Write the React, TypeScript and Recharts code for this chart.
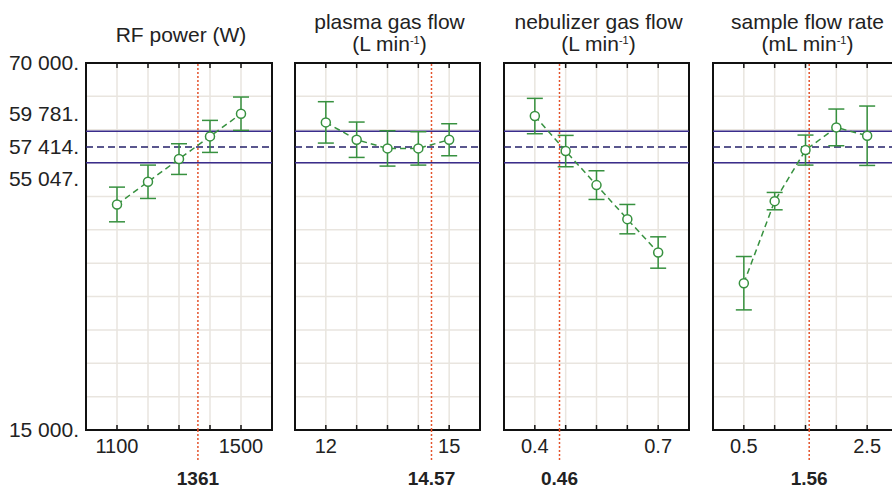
import React from "react";
import {
  ComposedChart,
  Line,
  XAxis,
  YAxis,
  CartesianGrid,
  ErrorBar,
  ReferenceLine,
  ReferenceArea,
} from "recharts";

// y scale shared by all four panels
const yTicks = [15000, 20000, 25000, 30000, 35000, 40000, 45000, 50000, 55000, 60000, 65000, 70000];
const yLabelValues = [70000, 59781, 57414, 55047, 15000];
const upperLimit = 59781;
const targetValue = 57414;
const lowerLimit = 55047;

// RF power (W)
const rfPower = [1100, 1200, 1300, 1400, 1500];
const rfSignal = [48800, 52200, 55600, 59000, 62400];
const rfError = [2600, 2500, 2300, 2400, 2500];

// plasma gas flow (L/min)
const plasmaFlow = [12, 12.75, 13.5, 14.25, 15];
const plasmaSignal = [61100, 58500, 57200, 57200, 58500];
const plasmaError = [3100, 2650, 2650, 2500, 2400];

// nebulizer gas flow (L/min)
const nebulizerFlow = [0.4, 0.475, 0.55, 0.625, 0.7];
const nebulizerSignal = [62050, 56800, 51700, 46600, 41600];
const nebulizerError = [2650, 2350, 2150, 2200, 2350];

// sample flow rate (mL/min)
const sampleFlow = [0.5, 1.0, 1.5, 2.0, 2.5];
const sampleSignal = [37000, 49300, 56950, 60350, 59100];
const sampleError = [4000, 1300, 2250, 2750, 4450];

const optimum = ["1361", "14.57", "0.46", "1.56"];

const GREEN = "#37913f";
const NAVY = "#3a2d8c";
const RED = "#e4532c";
const GRID = "#e9e5df";
const INK = "#222";
const FONT = "'Liberation Sans', Arial, Helvetica, sans-serif";

const PLOT_TOP = 63;
const PLOT_BOTTOM = 430;

type Panel = {
  title: string;
  unit?: string;
  xs: number[];
  ys: number[];
  errs: number[];
  domain: [number, number];
  labelled: number[];
  opt: string;
  left: number;
  width: number;
};

const panels: Panel[] = [
  { title: "RF power (W)", xs: rfPower, ys: rfSignal, errs: rfError, domain: [1000, 1600], labelled: [1100, 1500], opt: optimum[0], left: 86, width: 186 },
  { title: "plasma gas flow", unit: "L", xs: plasmaFlow, ys: plasmaSignal, errs: plasmaError, domain: [11.25, 15.75], labelled: [12, 15], opt: optimum[1], left: 295, width: 185 },
  { title: "nebulizer gas flow", unit: "L", xs: nebulizerFlow, ys: nebulizerSignal, errs: nebulizerError, domain: [0.325, 0.775], labelled: [0.4, 0.7], opt: optimum[2], left: 504, width: 185 },
  { title: "sample flow rate", unit: "mL", xs: sampleFlow, ys: sampleSignal, errs: sampleError, domain: [0, 3], labelled: [0.5, 2.5], opt: optimum[3], left: 713, width: 185 },
];

const fmtY = (v: number) => v.toLocaleString("en-US").replace(/,/g, " ") + ".";

function PanelChart({ p, first }: { p: Panel; first: boolean }) {
  const padL = first ? 0 : 10;
  const padR = first ? 8 : 10;
  const data = p.xs.map((x, i) => ({ x, y: p.ys[i], err: p.errs[i] }));
  const plotLeft = first ? p.left : padL;
  const plotRight = plotLeft + p.width;

  const xTick = (props: any) => {
    const { x, payload } = props;
    const v = payload.value;
    return (
      <g>
        <line x1={x} x2={x} y1={PLOT_BOTTOM} y2={PLOT_BOTTOM - 5} stroke="#111" strokeWidth={1.5} />
        <line x1={x} x2={x} y1={PLOT_TOP} y2={PLOT_TOP + 5} stroke="#111" strokeWidth={1.5} />
        {p.labelled.includes(v) && (
          <text x={x} y={453} textAnchor="middle" fontSize={20} fill={INK}>
            {String(v)}
          </text>
        )}
      </g>
    );
  };

  const yTick = (props: any) => {
    const { y } = props;
    return (
      <g>
        <line x1={plotLeft} x2={plotLeft + 5} y1={y} y2={y} stroke="#111" strokeWidth={1.5} />
        <line x1={plotRight} x2={plotRight - 5} y1={y} y2={y} stroke="#111" strokeWidth={1.5} />
      </g>
    );
  };

  const yLabel = (props: any) => {
    const { y, payload } = props;
    const v = payload.value;
    const shift = v === upperLimit ? -17 : v === lowerLimit ? 16 : 0;
    return (
      <text x={79} y={y + shift} dy={7} textAnchor="end" fontSize={21} fill={INK}>
        {fmtY(v)}
      </text>
    );
  };

  const optLabel = (props: any) => {
    const vb = props.viewBox || {};
    const x = vb.x ?? 0;
    const bottom = (vb.y ?? PLOT_TOP) + (vb.height ?? PLOT_BOTTOM - PLOT_TOP);
    return (
      <g>
        <line x1={x} x2={x} y1={bottom} y2={bottom + 31} stroke={RED} strokeWidth={1.5} strokeDasharray="2 2" />
        <text x={x} y={bottom + 55} textAnchor="middle" fontSize={19} fontWeight="bold" fill={INK}>
          {p.opt}
        </text>
      </g>
    );
  };

  const chartWidth = plotRight + padR;

  return (
    <div style={{ position: "absolute", top: 0, left: first ? 0 : p.left - padL }}>
      <ComposedChart
        width={chartWidth}
        height={488}
        data={data}
        margin={{ top: PLOT_TOP, bottom: 28, left: padL, right: padR }}
      >
        <CartesianGrid stroke={GRID} strokeWidth={1.5} />
        <XAxis
          dataKey="x"
          type="number"
          domain={p.domain}
          ticks={p.xs}
          allowDataOverflow
          axisLine={false}
          tickLine={false}
          height={30}
          tick={xTick}
          interval={0}
        />
        {first && (
          <YAxis
            yAxisId="labels"
            type="number"
            domain={[15000, 70000]}
            ticks={yLabelValues}
            width={p.left}
            axisLine={false}
            tickLine={false}
            tick={yLabel}
            interval={0}
          />
        )}
        <YAxis
          type="number"
          domain={[15000, 70000]}
          ticks={yTicks}
          width={0}
          axisLine={false}
          tickLine={false}
          tick={yTick}
          interval={0}
        />
        <ReferenceLine y={upperLimit} stroke={NAVY} strokeWidth={1.5} />
        <ReferenceLine y={lowerLimit} stroke={NAVY} strokeWidth={1.5} />
        <ReferenceLine y={targetValue} stroke="#25206a" strokeWidth={1.5} strokeDasharray="7 4" />
        <ReferenceLine
          x={parseFloat(p.opt)}
          stroke={RED}
          strokeWidth={1.5}
          strokeDasharray="2 2"
          label={{ value: p.opt, content: optLabel }}
        />
        <ReferenceArea
          x1={p.domain[0]}
          x2={p.domain[1]}
          y1={15000}
          y2={70000}
          fill="none"
          stroke="#111"
          strokeWidth={2}
          ifOverflow="visible"
        />
        {first && (
          <Line
            yAxisId="labels"
            dataKey="y"
            stroke="none"
            dot={false}
            activeDot={false}
            legendType="none"
            isAnimationActive={false}
          />
        )}
        <Line
          dataKey="y"
          type="linear"
          stroke={GREEN}
          strokeWidth={1.5}
          strokeDasharray="6 4"
          dot={{ r: 4.5, fill: "#fff", stroke: GREEN, strokeWidth: 1.5, strokeDasharray: "none" }}
          activeDot={false}
          isAnimationActive={false}
        >
          <ErrorBar dataKey="err" direction="y" width={8} stroke={GREEN} strokeWidth={1.5} />
        </Line>
      </ComposedChart>
    </div>
  );
}

export default function App() {
  return (
    <div
      style={{
        position: "absolute",
        left: 0,
        top: 0,
        width: 892,
        height: 488,
        overflow: "hidden",
        background: "#fff",
        fontFamily: FONT,
      }}
    >
      {panels.map((p, i) => (
        <PanelChart key={p.title} p={p} first={i === 0} />
      ))}
      <svg width={892} height={60} style={{ position: "absolute", left: 0, top: 0 }}>
        {panels.map((p) => {
          const cx = p.left + p.width / 2 + 2;
          if (!p.unit) {
            return (
              <text key={p.title} x={cx} y={42} textAnchor="middle" fontSize={21} fill={INK}>
                {p.title}
              </text>
            );
          }
          return (
            <g key={p.title}>
              <text x={cx} y={29} textAnchor="middle" fontSize={21} fill={INK}>
                {p.title}
              </text>
              <text x={cx} y={51} textAnchor="middle" fontSize={21} fill={INK}>
                ({p.unit} min
                <tspan fontSize={11} dy={-7}>-1</tspan>
                <tspan dy={7}>)</tspan>
              </text>
            </g>
          );
        })}
      </svg>
    </div>
  );
}
